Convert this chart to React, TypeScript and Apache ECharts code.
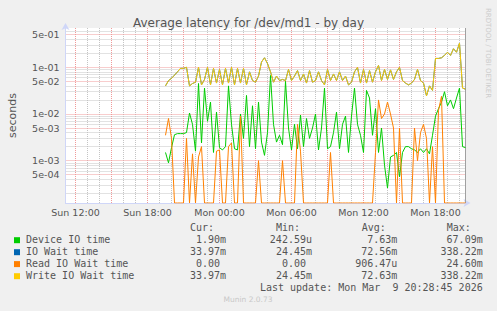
import React, { useEffect, useRef } from 'react';
import * as echarts from 'echarts';

// ---- time axis (hours since Sun 00:00) ----
const START_HOUR = 19.5; // first sample: Sun 19:30
const STEP_HOURS = 0.25; // one sample every 15 minutes
const X_MIN = 11 + 10 / 60; // Sun 11:10
const X_MAX = 44.5; // Mon 20:30
const X_TICK_HOURS = [12, 18, 24, 30, 36, 42];
const X_TICK_LABELS = ['Sun 12:00', 'Sun 18:00', 'Mon 00:00', 'Mon 06:00', 'Mon 12:00', 'Mon 18:00'];
const X_GRID_MAJOR = [12, 15, 18, 21, 24, 27, 30, 33, 36, 39, 42];
const X_GRID_MINOR = [13, 14, 16, 17, 19, 20, 22, 23, 25, 26, 28, 29, 31, 32, 34, 35, 37, 38, 40, 41, 43, 44];

// ---- log value axis ----
const Y_MIN = 1.24e-4;
const Y_MAX = 0.695;
const Y_MAJOR = [5e-4, 1e-3, 5e-3, 1e-2, 5e-2, 1e-1, 5e-1];
const Y_MAJOR_LABELS = ['5e-04', '1e-03', '5e-03', '1e-02', '5e-02', '1e-01', '5e-01'];
const Y_MINOR = [
  2e-4, 3e-4, 4e-4, 6e-4, 7e-4, 8e-4, 9e-4,
  2e-3, 3e-3, 4e-3, 6e-3, 7e-3, 8e-3, 9e-3,
  2e-2, 3e-2, 4e-2, 6e-2, 7e-2, 8e-2, 9e-2,
  2e-1, 3e-1, 4e-1, 6e-1,
];

// ---- series values (seconds) ----
const DEVICE_IO = [
  0.0015, 0.0009, 0.0019, 0.0036, 0.0038, 0.0038, 0.0038, 0.004, 0.0105, 0.006,
  0.0016, 0.045, 0.0024, 0.036, 0.007, 0.018, 0.0015, 0.011, 0.0019, 0.0017,
  0.002, 0.04, 0.006, 0.0018, 0.0017, 0.01, 0.003, 0.025, 0.002, 0.015,
  0.0018, 0.018, 0.0025, 0.0013, 0.004, 0.067, 0.006, 0.0025, 0.0035, 0.0022,
  0.05, 0.005, 0.0017, 0.006, 0.0018, 0.0095, 0.002, 0.008, 0.003, 0.005,
  0.01, 0.0017, 0.005, 0.036, 0.0018, 0.002, 0.004, 0.011, 0.0018, 0.006,
  0.009, 0.0015, 0.009, 0.036, 0.006, 0.0035, 0.0015, 0.032, 0.022, 0.0035,
  0.013, 0.0015, 0.005, 0.0008, 0.00026, 0.0012, 0.0013, 0.0015, 0.00045, 0.0015,
  0.002, 0.002, 0.0018, 0.0017, 0.0015, 0.0018, 0.0015, 0.0018, 0.0014, 0.0035,
  0.009, 0.013, 0.018, 0.03, 0.015, 0.02, 0.013, 0.022, 0.036, 0.002, 0.0019,
];
const IO_WAIT = [
  0.04, 0.052, 0.058, 0.068, 0.08, 0.095, 0.095, 0.1, 0.04, 0.045,
  0.048, 0.1, 0.042, 0.055, 0.1, 0.042, 0.095, 0.046, 0.09, 0.042,
  0.095, 0.046, 0.1, 0.042, 0.095, 0.046, 0.095, 0.042, 0.08, 0.052,
  0.048, 0.065, 0.13, 0.16, 0.12, 0.08, 0.048, 0.065, 0.052, 0.055,
  0.052, 0.09, 0.052, 0.065, 0.085, 0.052, 0.072, 0.046, 0.085, 0.048,
  0.052, 0.08, 0.052, 0.042, 0.09, 0.052, 0.072, 0.052, 0.08, 0.052,
  0.065, 0.042, 0.048, 0.08, 0.1, 0.046, 0.09, 0.046, 0.085, 0.048,
  0.08, 0.11, 0.052, 0.09, 0.055, 0.088, 0.055, 0.08, 0.1, 0.052,
  0.046, 0.042, 0.046, 0.055, 0.09, 0.052, 0.046, 0.0245, 0.04, 0.032,
  0.155, 0.155, 0.16, 0.18, 0.21, 0.18, 0.25, 0.21, 0.33, 0.036, 0.034,
];
const READ_IO_WAIT = [
  0.0035, 0.008, 0.003, 0, 0, 0, 0, 0.003, 0, 0.0014,
  0, 0.0012, 0.002, 0, 0, 0, 0, 0.0016, 0.0017, 0,
  0, 0.002, 0.0024, 0, 0, 0.009, 0, 0, 0, 0,
  0, 0.001, 0, 0, 0, 0, 0, 0, 0, 0.001,
  0, 0, 0, 0, 0.006, 0.0016, 0, 0, 0, 0,
  0, 0, 0, 0, 0, 0.0015, 0, 0, 0, 0,
  0, 0, 0, 0, 0, 0, 0, 0, 0, 0,
  0.0015, 0.02, 0.008, 0.01, 0.018, 0.01, 0.005, 0, 0.005, 0,
  0, 0, 0, 0.005, 0.001, 0.004, 0.006, 0.003, 0, 0.002,
  0, 0.012, 0.024, 0, 0, 0, 0, 0, 0, 0, 0,
];
const WRITE_IO_WAIT = [
  0.04, 0.052, 0.058, 0.068, 0.08, 0.095, 0.095, 0.1, 0.04, 0.045,
  0.048, 0.1, 0.042, 0.055, 0.1, 0.042, 0.095, 0.046, 0.09, 0.042,
  0.095, 0.046, 0.1, 0.042, 0.095, 0.046, 0.095, 0.042, 0.08, 0.052,
  0.048, 0.065, 0.13, 0.16, 0.12, 0.08, 0.048, 0.065, 0.052, 0.055,
  0.052, 0.09, 0.052, 0.065, 0.085, 0.052, 0.072, 0.046, 0.085, 0.048,
  0.052, 0.08, 0.052, 0.042, 0.09, 0.052, 0.072, 0.052, 0.08, 0.052,
  0.065, 0.042, 0.048, 0.08, 0.1, 0.046, 0.09, 0.046, 0.085, 0.048,
  0.08, 0.11, 0.052, 0.09, 0.055, 0.088, 0.055, 0.08, 0.1, 0.052,
  0.046, 0.042, 0.046, 0.055, 0.09, 0.052, 0.046, 0.0245, 0.04, 0.032,
  0.155, 0.155, 0.16, 0.18, 0.21, 0.18, 0.25, 0.21, 0.33, 0.036, 0.034,
];

// ---- legend table ----
const LEGEND_NAMES = ['Device IO time', 'IO Wait time', 'Read IO Wait time', 'Write IO Wait time'];
const LEGEND_COLORS = ['#00CC00', '#0066B3', '#FF8000', '#FFCC00'];
const COL_HEADERS = ['Cur:', 'Min:', 'Avg:', 'Max:'];
const CUR = ['1.90m', '33.97m', '0.00', '33.97m'];
const MIN = ['242.59u', '24.45m', '0.00', '24.45m'];
const AVG = ['7.63m', '72.56m', '906.47u', '72.63m'];
const MAX = ['67.09m', '338.22m', '24.60m', '338.22m'];
const LAST_UPDATE = 'Last update: Mon Mar\u00A0\u00A09 20:28:45 2026';
const TITLE = 'Average latency for /dev/md1 - by day';

const MONO = "'DejaVu Sans Mono', monospace";
const SANS = "'DejaVu Sans', sans-serif";
const TEXT = '#555555';

function buildOption() {
  const toPairs = (arr: number[]) =>
    arr.map((v, i) => [START_HOUR + i * STEP_HOURS, v > 0 ? v : Y_MIN]);

  const minorStyle = { color: '#c4c4c4', type: [1, 1] as any, width: 1 };
  const majorStyle = { color: '#f09a9a', type: [1, 1] as any, width: 1 };
  const noLabel = { show: false };
  const lg = (v: number) => Math.log10(v);

  // Grid lines live on a hidden linear axis that spans the same decades as the log axis.
  const gridLines: any[] = [
    ...Y_MINOR.map((v) => ({ yAxis: lg(v), lineStyle: minorStyle, label: noLabel })),
    ...X_GRID_MINOR.map((h) => ({ xAxis: h, lineStyle: minorStyle, label: noLabel })),
    ...X_GRID_MAJOR.map((h) => ({ xAxis: h, lineStyle: majorStyle, label: noLabel })),
    ...Y_MAJOR.map((v, i) => ({
      yAxis: lg(v),
      lineStyle: majorStyle,
      label: {
        show: true,
        position: 'start',
        formatter: Y_MAJOR_LABELS[i],
        distance: 6,
        color: TEXT,
        fontSize: 9.5,
        fontFamily: SANS,
      },
    })),
    { xAxis: X_MAX, lineStyle: { color: '#a0a0a0', type: 'solid', width: 1 }, label: noLabel },
  ];

  const lineSeries = (name: string, data: number[], color: string, z: number) => ({
    type: 'line',
    name,
    yAxisIndex: 0,
    data: toPairs(data),
    showSymbol: false,
    symbol: 'none',
    z,
    lineStyle: { color, width: 1 },
    itemStyle: { color },
    emphasis: { disabled: true },
  });

  const colX = [226, 312, 397.3, 482.7];
  const headerX = [190, 276, 361.7, 446.7];
  const rowY = [239.7, 251.7, 263.6, 275.7];
  const cols = [CUR, MIN, AVG, MAX];
  const charW = 6.0;

  const graphics: any[] = [];
  COL_HEADERS.forEach((h, c) => {
    graphics.push({
      type: 'text',
      x: headerX[c],
      y: 227.7,
      style: { text: h, fill: TEXT, font: `10px ${MONO}`, textAlign: 'left', textVerticalAlign: 'middle' },
    });
  });
  LEGEND_NAMES.forEach((name, r) => {
    graphics.push({
      type: 'rect',
      shape: { x: 14, y: rowY[r] - 2.5, width: 6, height: 6 },
      style: { fill: LEGEND_COLORS[r] },
    });
    graphics.push({
      type: 'text',
      x: 26,
      y: rowY[r],
      style: { text: name, fill: TEXT, font: `10px ${MONO}`, textAlign: 'left', textVerticalAlign: 'middle' },
    });
    cols.forEach((col, c) => {
      const s = col[r];
      const hasSuffix = /[a-zA-Z]$/.test(s);
      graphics.push({
        type: 'text',
        x: colX[c] - (hasSuffix ? 0 : charW),
        y: rowY[r],
        style: { text: s, fill: TEXT, font: `10px ${MONO}`, textAlign: 'right', textVerticalAlign: 'middle' },
      });
    });
  });
  graphics.push({
    type: 'text',
    x: 482.7,
    y: 287.7,
    style: { text: LAST_UPDATE, fill: TEXT, font: `10px ${MONO}`, textAlign: 'right', textVerticalAlign: 'middle' },
  });
  graphics.push({
    type: 'text',
    x: 248,
    y: 299.3,
    style: { text: 'Munin 2.0.73', fill: '#c8c8c8', font: `7.5px ${SANS}`, textAlign: 'center', textVerticalAlign: 'middle' },
  });
  graphics.push({
    type: 'text',
    x: 488,
    y: 53,
    rotation: -Math.PI / 2,
    style: { text: 'RRDTOOL / TOBI OETIKER', fill: '#cccccc', font: `7px ${SANS}`, textAlign: 'center', textVerticalAlign: 'middle' },
  });

  return {
    animation: false,
    backgroundColor: '#F0F0F0',
    title: {
      text: TITLE,
      left: 'center',
      top: 12,
      textStyle: { color: TEXT, fontSize: 12, fontWeight: 'normal', fontFamily: SANS },
    },
    grid: {
      left: 65.5,
      top: 28,
      width: 400,
      height: 175,
      show: true,
      backgroundColor: '#FFFFFF',
      borderWidth: 0,
      outerBoundsMode: 'none',
      containLabel: false,
    },
    xAxis: {
      type: 'value',
      min: X_MIN,
      max: X_MAX,
      axisLine: {
        show: true,
        lineStyle: { color: '#CFD6F8', width: 1 },
        symbol: ['none', 'arrow'],
        symbolSize: [6, 7],
        symbolOffset: [0, 5],
      },
      axisTick: { show: false },
      splitLine: { show: false },
      axisLabel: {
        customValues: X_TICK_HOURS,
        formatter: (v: number) => {
          const idx = X_TICK_HOURS.indexOf(Math.round(v));
          return idx >= 0 ? X_TICK_LABELS[idx] : '';
        },
        color: TEXT,
        fontSize: 9.5,
        fontFamily: SANS,
        margin: 4,
      },
    },
    yAxis: [
      {
        type: 'log',
        logBase: 10,
        min: Y_MIN,
        max: Y_MAX,
        name: 'seconds',
        nameLocation: 'middle',
        nameGap: 48,
        nameTextStyle: { color: TEXT, fontSize: 11, fontFamily: SANS },
        axisLine: {
          show: true,
          lineStyle: { color: '#CFD6F8', width: 1 },
          symbol: ['none', 'arrow'],
          symbolSize: [6, 7],
          symbolOffset: [0, 5],
        },
        axisTick: { show: false },
        axisLabel: { show: false },
        splitLine: { show: false },
        minorSplitLine: { show: false },
        z: 3,
      },
      {
        type: 'value',
        min: lg(Y_MIN),
        max: lg(Y_MAX),
        position: 'left',
        show: false,
        axisLine: { show: false },
        axisTick: { show: false },
        axisLabel: { show: false },
        splitLine: { show: false },
      },
    ],
    series: [
      {
        type: 'line',
        name: 'grid',
        yAxisIndex: 1,
        data: [],
        silent: true,
        z: 1,
        markLine: {
          silent: true,
          symbol: 'none',
          z: 1,
          animation: false,
          precision: 6,
          label: { show: false },
          emphasis: { disabled: true },
          data: gridLines,
        },
      },
      lineSeries(LEGEND_NAMES[0], DEVICE_IO, LEGEND_COLORS[0], 3),
      lineSeries(LEGEND_NAMES[1], IO_WAIT, LEGEND_COLORS[1], 3),
      lineSeries(LEGEND_NAMES[2], READ_IO_WAIT, LEGEND_COLORS[2], 4),
      lineSeries(LEGEND_NAMES[3], WRITE_IO_WAIT, LEGEND_COLORS[3], 5),
    ],
    graphic: graphics,
  };
}

export default function App() {
  const ref = useRef<HTMLDivElement>(null);
  useEffect(() => {
    document.body.style.margin = '0';
    if (!ref.current) return;
    const chart = echarts.init(ref.current, null, { renderer: 'svg' });
    chart.setOption(buildOption() as any);
    return () => chart.dispose();
  }, []);
  return <div ref={ref} style={{ width: 497, height: 311, background: '#F0F0F0' }} />;
}
